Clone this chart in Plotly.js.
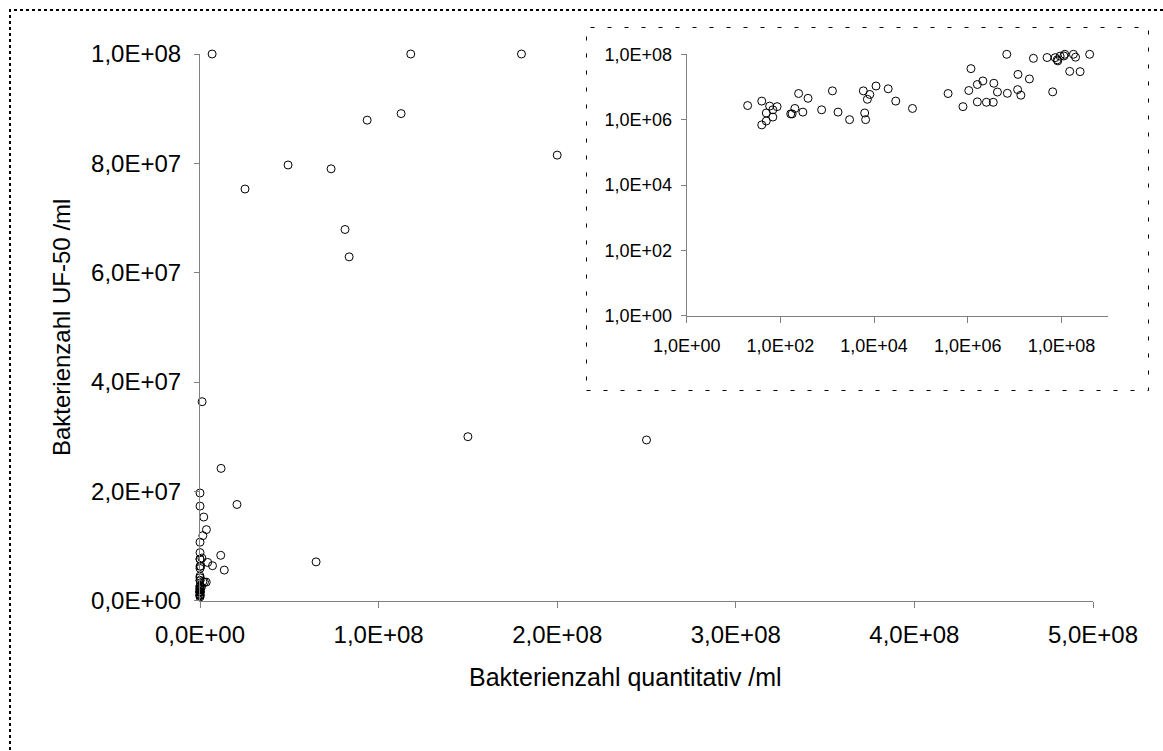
<!DOCTYPE html>
<html>
<head>
<meta charset="utf-8">
<script src="https://cdn.plot.ly/plotly-3.0.1.min.js"></script>
<style>
  html, body { margin: 0; padding: 0; background: #ffffff; }
  #chart { width: 1163px; height: 751px; }
</style>
</head>
<body>
<div id="chart"></div>
<script>
// Bakterienzahl quantitativ /ml (x) vs. Bakterienzahl UF-50 /ml (y)
const quantitativ = [
  20, 40, 40, 50, 50, 59, 69, 69, 85, 166,
  178, 204, 245, 302, 389, 759, 1290, 1700, 3000, 5900,
  6300, 6600, 7200, 8100, 11000, 20000, 29000, 66000, 3.8e5, 7.9e5,
  1.05e6, 1.17e6, 1.6e6, 1.6e6, 2.1e6, 2.5e6, 3.6e6, 3.5e6, 4.3e6, 6.8e6,
  7.0e6, 1.18e7, 1.16e7, 1.36e7, 2.07e7, 2.52e7, 4.93e7, 7.34e7, 8.12e7, 8.35e7,
  6.5e7, 9.36e7, 1.126e8, 1.18e8, 1.5e8, 1.8e8, 2.0e8, 2.5e8, 4.0e8,
  0, 0
];
const uf50 = [
  2.7e6, 3.7e6, 6.9e5, 9.1e5, 1.6e6, 2.6e6, 1.2e6, 2.0e6, 2.5e6, 1.5e6,
  1.5e6, 2.2e6, 6.3e6, 1.7e6, 4.5e6, 2.0e6, 7.6e6, 1.7e6, 1.0e6, 7.6e6,
  1.6e6, 1.0e6, 4.2e6, 5.9e6, 1.07e7, 8.8e6, 3.7e6, 2.2e6, 6.3e6, 2.5e6,
  7.8e6, 3.64e7, 1.19e7, 3.5e6, 1.53e7, 3.4e6, 1.30e7, 3.4e6, 7.0e6, 1.0e8,
  6.4e6, 2.42e7, 8.3e6, 5.6e6, 1.76e7, 7.53e7, 7.97e7, 7.9e7, 6.79e7, 6.29e7,
  7.1e6, 8.79e7, 8.91e7, 1.0e8, 3.0e7, 1.0e8, 8.15e7, 2.94e7, 1.0e8,
  1.97e7, 1.73e7
];

// Tick values and labels
const linXTicks = [0, 1e8, 2e8, 3e8, 4e8, 5e8];
const linXLabels = ["0,0E+00", "1,0E+08", "2,0E+08", "3,0E+08", "4,0E+08", "5,0E+08"];
const linYTicks = [0, 2e7, 4e7, 6e7, 8e7, 1e8];
const linYLabels = ["0,0E+00", "2,0E+07", "4,0E+07", "6,0E+07", "8,0E+07", "1,0E+08"];
const logXTicks = [1, 1e2, 1e4, 1e6, 1e8];
const logXLabels = ["1,0E+00", "1,0E+02", "1,0E+04", "1,0E+06", "1,0E+08"];
const logYTicks = [1, 1e2, 1e4, 1e6, 1e8];
const logYLabels = ["1,0E+00", "1,0E+02", "1,0E+04", "1,0E+06", "1,0E+08"];

const xTitle = "Bakterienzahl quantitativ /ml";
const yTitle = "Bakterienzahl UF-50 /ml";

const W = 1163, H = 751;
const px = v => v / W;
const py = v => 1 - v / H;

const FONT = "Liberation Sans, Arial, sans-serif";
const AXIS_COLOR = "#808080";

const markerStyle = { symbol: "circle-open", size: 8, color: "#000000", line: { width: 1, color: "#000000" } };

const traces = [
  {
    type: "scatter", mode: "markers",
    x: quantitativ, y: uf50,
    xaxis: "x", yaxis: "y",
    marker: markerStyle, cliponaxis: false, hoverinfo: "x+y", showlegend: false
  },
  {
    // empty carrier for the inset's white background panel
    type: "scatter", mode: "markers",
    x: [], y: [],
    xaxis: "x2", yaxis: "y2", showlegend: false, hoverinfo: "skip"
  },
  {
    type: "scatter", mode: "markers",
    x: quantitativ, y: uf50,
    xaxis: "x3", yaxis: "y3",
    marker: markerStyle, cliponaxis: false, hoverinfo: "x+y", showlegend: false
  }
];

const baseAxis = {
  showgrid: false, zeroline: false, showline: true,
  linecolor: AXIS_COLOR, linewidth: 1,
  ticks: "outside", ticklen: 5, tickwidth: 1, tickcolor: AXIS_COLOR,
  tickmode: "array", fixedrange: true
};

const hiddenAxis = {
  showgrid: false, zeroline: false, showline: false, showticklabels: false,
  ticks: "", range: [0, 1], fixedrange: true
};

const layout = {
  width: W, height: H,
  margin: { l: 0, r: 0, t: 0, b: 0 },
  paper_bgcolor: "#ffffff",
  plot_bgcolor: "#ffffff",
  showlegend: false,
  font: { family: FONT, color: "#000000" },
  xaxis: Object.assign({}, baseAxis, {
    domain: [px(200), px(1093)],
    anchor: "y",
    range: [0, 5e8],
    ticklen: 6,
    ticklabelstandoff: 6,
    tickvals: linXTicks, ticktext: linXLabels,
    tickfont: { size: 24, family: FONT, color: "#000000" }
  }),
  yaxis: Object.assign({}, baseAxis, {
    domain: [py(600.7), py(54)],
    anchor: "x",
    range: [0, 1e8],
    ticklabelstandoff: 8,
    tickvals: linYTicks, ticktext: linYLabels,
    tickfont: { size: 24, family: FONT, color: "#000000" },
    title: { text: yTitle, font: { size: 24, family: FONT, color: "#000000" }, standoff: 13 }
  }),
  xaxis2: Object.assign({}, hiddenAxis, { domain: [px(586), px(1148)], anchor: "y2" }),
  yaxis2: Object.assign({}, hiddenAxis, { domain: [py(390), py(27)], anchor: "x2" }),
  xaxis3: Object.assign({}, baseAxis, {
    type: "log",
    domain: [px(686.7), px(1108.3)],
    anchor: "y3",
    range: [0, 9],
    ticklen: 6,
    ticklabelstandoff: 8,
    tickvals: logXTicks, ticktext: logXLabels,
    tickfont: { size: 18, family: FONT, color: "#000000" }
  }),
  yaxis3: Object.assign({}, baseAxis, {
    type: "log",
    domain: [py(315.7), py(54.3)],
    anchor: "x3",
    range: [0, 8],
    ticklabelstandoff: 5,
    tickvals: logYTicks, ticktext: logYLabels,
    tickfont: { size: 18, family: FONT, color: "#000000" }
  }),
  annotations: [
    {
      text: xTitle, xref: "paper", yref: "paper",
      x: px(625), y: py(677), xanchor: "center", yanchor: "middle",
      showarrow: false, font: { size: 25, family: FONT, color: "#000000" }
    }
  ],
  shapes: [
    {
      type: "rect", xref: "paper", yref: "paper", layer: "above",
      x0: px(586.5), x1: px(1148.5), y0: py(390.5), y1: py(27.5),
      line: { color: "#000000", width: 1, dash: "4px,13px" },
      fillcolor: "rgba(0,0,0,0)"
    },
    {
      type: "rect", xref: "paper", yref: "paper", layer: "above",
      x0: px(10), x1: px(1175), y0: py(765), y1: py(10),
      line: { color: "#000000", width: 2, dash: "dot" },
      fillcolor: "rgba(0,0,0,0)"
    }
  ]
};

Plotly.newPlot("chart", traces, layout, { displayModeBar: false, staticPlot: true });
</script>
</body>
</html>
